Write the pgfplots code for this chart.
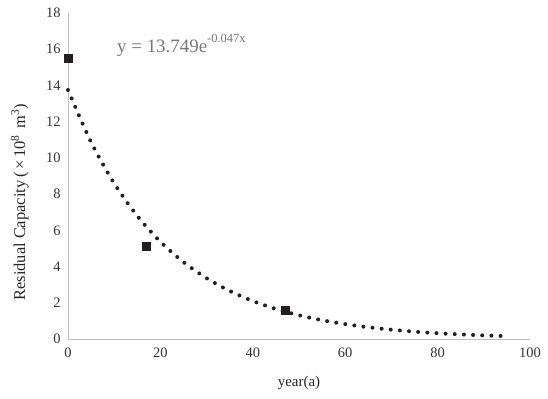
\documentclass[border=0pt]{standalone}
\usepackage{fontspec}
\setmainfont{Liberation Serif}
\usepackage{pgfplots}
\pgfplotsset{compat=1.18}
\definecolor{axgray}{RGB}{191,191,191}
\definecolor{mk}{RGB}{35,31,32}
\definecolor{eqgray}{RGB}{118,118,118}
\begin{document}
\begin{tikzpicture}
\begin{axis}[
  name=ax,
  scale only axis,
  width=462bp, height=326bp,
  xmin=0, xmax=100, ymin=0, ymax=18,
  xtick={0,20,...,100}, ytick={0,2,...,18},
  axis x line*=bottom, axis y line*=left,
  axis line style={axgray, line width=0.8pt, -},
  major tick length=0pt,
  tick style={draw=none},
  /pgf/number format/assume math mode=true,
  ticklabel style={font=\fontsize{14.5}{17}\selectfont, text=black!80},
  xticklabel style={yshift=-5bp},
  yticklabel style={xshift=-4bp},
  xlabel={year(a)},
  ylabel={Residual Capacity\,(\,\texttimes\,10\textsuperscript{8}\, m\textsuperscript{3})},
  every axis x label/.style={at={(axis description cs:0.5,-0.135)}, anchor=center, font=\fontsize{15}{17}\selectfont, text=black!85},
  every axis y label/.style={at={(axis description cs:-0.104,0.42)}, rotate=90, anchor=center, font=\fontsize{16.5}{19}\selectfont, text=black!85},
  clip=false,
]
\addplot[mk, line width=4pt, line cap=round, dash pattern=on 0pt off 9.2pt, smooth, tension=0.5] coordinates {
(0,13.749) (5,10.870) (10,8.593) (15,6.794) (20,5.371) (25,4.246) (30,3.357)
(35,2.654) (40,2.098) (45,1.659) (50,1.311) (55,1.037) (60,0.820) (65,0.648)
(70,0.512) (75,0.405) (80,0.320) (85,0.253) (90,0.200) (95,0.158)
};
\addplot[only marks, mark=square*, mark size=4bp, mark options={fill=mk, draw=mk}] coordinates {
(0,15.5) (17,5.15) (47,1.6)
};
\node[anchor=base west, inner sep=0pt, text=eqgray, font=\fontsize{19}{23}\selectfont] at (axis cs:10.6,15.8) {y = 13.749e\raisebox{0.55em}{\fontsize{12.5}{14}\selectfont -0.047x}};
\end{axis}
\pgfresetboundingbox
\path[use as bounding box] ([xshift=-68bp,yshift=-60bp]ax.south west) rectangle ([xshift=18bp,yshift=13bp]ax.north east);
\end{tikzpicture}
\end{document}
